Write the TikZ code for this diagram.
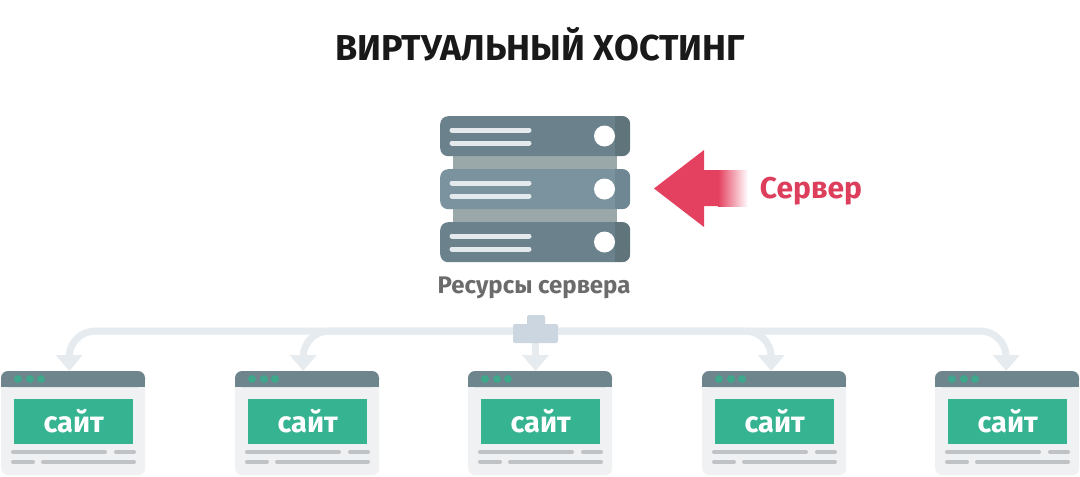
\documentclass[tikz,border=0pt]{standalone}
\usepackage{fontspec}
\setmainfont{Fira Sans}
\usetikzlibrary{arrows.meta,positioning}
\definecolor{busc}{HTML}{E6EBEF}
\definecolor{hubc}{HTML}{CCD6E0}
\definecolor{slate}{HTML}{6B828C}
\definecolor{slatemid}{HTML}{7A939E}
\definecolor{slatedk}{HTML}{5F747B}
\definecolor{slatemd}{HTML}{6F8793}
\definecolor{rack}{HTML}{9AA8AA}
\definecolor{rowline}{HTML}{E4E9EE}
\definecolor{redc}{HTML}{E4405F}
\definecolor{redt}{HTML}{DD3E5C}
\definecolor{body}{HTML}{EFF1F3}
\definecolor{head}{HTML}{6F858E}
\definecolor{greenc}{HTML}{36B391}
\definecolor{dotc}{HTML}{3FA78B}
\definecolor{grayl}{HTML}{BFC3C6}
\definecolor{labelc}{HTML}{6B6B6B}
\tikzset{
  x=1pt,y=-1pt,
  unitbox/.style={rounded corners=8pt,minimum width=190pt,minimum height=40pt,inner sep=0pt,anchor=north west},
  sitebox/.style={fill=body,rounded corners=7pt,minimum width=144pt,minimum height=104pt,inner sep=0pt,anchor=north west},
  sitetext/.style={fill=greenc,minimum width=119pt,minimum height=45pt,inner sep=0pt,text=white,font=\bfseries\fontsize{29}{30}\selectfont,anchor=north west},
  buslink/.style={draw=busc,line width=7pt,rounded corners=26pt,-{Triangle[width=26pt,length=16pt]}},
  rowl/.style={draw=rowline,line width=5pt,line cap=round},
  grayrow/.style={draw=grayl,line width=4pt,line cap=round},
}
\begin{document}
\begin{tikzpicture}
\useasboundingbox (0,0) rectangle (1080,477);
\fill[white] (0,0) rectangle (1080,477);
\node[font=\bfseries\fontsize{36}{38}\selectfont,text=black!90] (title) at (540,44) {ВИРТУАЛЬНЫЙ ХОСТИНГ};
% server
\fill[rack] (453,156) rectangle (617,222);
\foreach \n/\y/\c/\d in {a/116/slate/slatedk,b/169/slatemid/slatemd,c/222/slate/slatedk}{
  \node[unitbox,fill=\c] (unit\n) at (440,\y) {};
  \begin{scope}
    \clip[rounded corners=8pt] (440,\y) rectangle (630,\y+40);
    \fill[\d] (615,\y) rectangle (630,\y+40);
  \end{scope}
  \draw[rowl] (452,\y+14) -- (529,\y+14);
  \draw[rowl] (452,\y+27) -- (529,\y+27);
  \fill[white] (604.5,\y+20) circle (10.5);
}
\node[font=\bfseries\fontsize{24}{26}\selectfont,text=labelc] (reslabel) at (534,288) {Ресурсы сервера};
% red arrow
\shade[left color=redc,right color=white] (718,170) rectangle (748,206);
\fill[redc] (654,188.5) -- (704,150) -- (704,170) -- (718.5,170) -- (718.5,206) -- (704,206) -- (704,227) -- cycle;
\node[font=\bfseries\fontsize{30}{32}\selectfont,text=redt] (srvlabel) at (811,191) {Сервер};
% sites
\foreach \i/\x in {1/1,2/235,3/468,4/702,5/935}{
  \node[sitebox] (s\i) at (\x,371) {};
  \fill[head,rounded corners=7pt] (\x,387) -- (\x,371) -- (\x+144,371) -- (\x+144,387) -- cycle;
  \fill[head] (\x,381) rectangle (\x+144,387);
  \foreach \dx in {17,29,40}{\fill[dotc] (\x+\dx,379) circle (4);}
  \node[sitetext] (t\i) at (\x+13,399) {\raisebox{1pt}{сайт}};
  \draw[grayrow] (\x+12,451.5) -- (\x+104,451.5);
  \draw[grayrow] (\x+115,451.5) -- (\x+133,451.5);
  \draw[grayrow] (\x+12,461.5) -- (\x+32,461.5);
  \draw[grayrow] (\x+42,461.5) -- (\x+133,461.5);
}
% bus
\coordinate (hubc) at (535.5,331);
\coordinate (hubs) at (535.5,340);
\coordinate (s3n) at (535.5,371);
\draw[buslink] (hubc) -| ([xshift=-4pt]s1.north);
\draw[buslink] (hubc) -| ([xshift=-4pt]s2.north);
\draw[buslink,rounded corners=0pt] (hubs) -- (s3n);
\draw[buslink] (hubc) -| ([xshift=-3pt]s4.north);
\draw[buslink] (hubc) -| ([xshift=-1pt]s5.north);
\fill[hubc,rounded corners=2pt] (527,315) rectangle (545,330);
\node[fill=hubc,rounded corners=2pt,minimum width=45pt,minimum height=19pt,inner sep=0pt] (hub) at (535.5,333.5) {};
\end{tikzpicture}
\end{document}
